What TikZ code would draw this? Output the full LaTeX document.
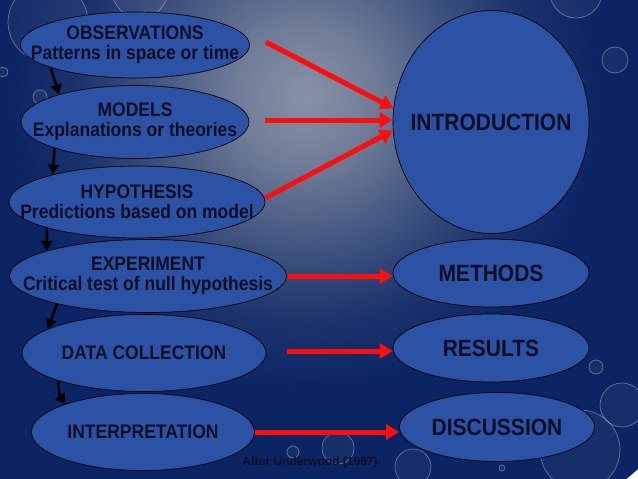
\documentclass[tikz,border=0pt]{standalone}
\usepackage{graphicx}
\usepackage{fontspec}
\setmainfont{Liberation Sans}
\usetikzlibrary{arrows.meta, positioning, shapes.geometric}
\definecolor{bgLight}{RGB}{136,146,166}
\definecolor{bgSoft}{RGB}{112,124,152}
\definecolor{bgMid}{RGB}{66,85,128}
\definecolor{bgDeep}{RGB}{26,50,108}
\definecolor{bgDark}{RGB}{10,36,100}
\definecolor{stepBlue}{RGB}{44,82,165}
\definecolor{txtDark}{RGB}{12,14,38}
\definecolor{linkRed}{RGB}{250,14,14}
\pgfdeclareradialshading{slidebg}{\pgfpoint{0bp}{0bp}}{%
  color(0bp)=(bgLight); color(3.5bp)=(bgSoft); color(7.5bp)=(bgMid);
  color(11.5bp)=(bgDeep); color(15bp)=(bgDark); color(50bp)=(bgDark)}
\newcommand{\Ln}[1]{\makebox[0pt]{\scalebox{1}[1.12]{#1}}}
\tikzset{
  every picture/.style={line width=0.7pt},
  node distance=78pt,
  lstep/.style={draw=black, ellipse, fill=stepBlue, inner sep=0pt, align=center,
    text=txtDark, font=\bfseries\fontsize{17.5}{20}\selectfont},
  rstep/.style={lstep, font=\bfseries\fontsize{21}{24}\selectfont},
  flow/.style={-{Triangle[length=10pt,width=11pt]}, line width=2.6pt, black},
  link/.style={-{Triangle[length=13pt,width=15pt]}, line width=5pt, linkRed},
  bubble/.style={draw=white, draw opacity=0.35, fill=white, fill opacity=0.05, line width=0.7pt}
}
\begin{document}
\begin{tikzpicture}[x=1pt, y=-1pt]
    \useasboundingbox (0,0) rectangle (638,479);
    \begin{scope}
      \clip (0,0) rectangle (638,479);
      \shade[shading=slidebg] (305,96) circle (500);
      \foreach \x/\y/\r in {48/22/40, 140/-10/28, 3/72/5, 40/97/7, 576/-8/26, 615/60/13,
        596/367/7, 622/405/22, 580/450/40, 502/468/3, 338/448/16, 293/452/6, 413/467/18}
        \draw[bubble] (\x,\y) circle (\r);
    \end{scope}

    \node [lstep, minimum width=229pt, minimum height=66pt] (obs) at (135,45)
      {\Ln{OBSERVATIONS}\\\Ln{Patterns in space or time}};
    \node [lstep, below of=obs, node distance=77pt, minimum width=228pt, minimum height=73pt] (mod)
      {\Ln{MODELS}\\\Ln{Explanations or theories}};
    \node [lstep, below of=mod, node distance=80pt, xshift=2pt, minimum width=256pt, minimum height=72pt] (hyp)
      {\Ln{HYPOTHESIS}\\\Ln{Predictions based on model}};
    \node [lstep, below of=hyp, node distance=74pt, xshift=11pt, minimum width=277pt, minimum height=73pt] (exp)
      {\Ln{EXPERIMENT}\\\Ln{Critical test of null hypothesis}};
    \node [lstep, below of=exp, node distance=77pt, xshift=-4pt, minimum width=244pt, minimum height=77pt] (data)
      {\Ln{DATA COLLECTION}};
    \node [lstep, below of=data, node distance=79pt, xshift=-1pt, minimum width=223pt, minimum height=77pt] (interp)
      {\Ln{INTERPRETATION}};

    \node [rstep, minimum width=196pt, minimum height=223pt] (intro) at (491,122) {\Ln{INTRODUCTION}};
    \node [rstep, minimum width=196pt, minimum height=68pt] (meth) at (491,273) {\Ln{METHODS}};
    \node [rstep, below of=meth, node distance=75pt, minimum width=196pt, minimum height=68pt] (res) {\Ln{RESULTS}};
    \node [rstep, below of=res, node distance=79pt, xshift=6pt, minimum width=195pt, minimum height=69pt] (disc) {\Ln{DISCUSSION}};

    \node [text=txtDark, font=\bfseries\fontsize{12}{14}\selectfont] (credit) at (310,462) {After Underwood (1997)};

    \draw [flow] (obs.195) -- (mod.160);
    \draw [flow] (mod.198) -- (hyp.162);
    \draw [flow] (hyp.196) -- (exp.166);
    \draw [flow] (exp.197) -- (data.166);
    \draw [flow] (data.198) to[bend right=20] (interp.160);

    \draw [link] ([xshift=16pt, yshift=3pt]obs.east) -- (intro.172);
    \draw [link] ([xshift=16pt, yshift=2pt]mod.east) -- ([yshift=2pt]mod.east -| intro.west);
    \draw [link] ([yshift=4pt]hyp.east) -- (intro.185);
    \draw [link] (exp.east) -- (exp.east -| meth.west);
    \draw [link] ([xshift=21pt, yshift=2pt]data.east) -- ([yshift=2pt]data.east -| res.west);
    \draw [link] (interp.east) -- (interp.east -| disc.west);
\end{tikzpicture}
\end{document}
